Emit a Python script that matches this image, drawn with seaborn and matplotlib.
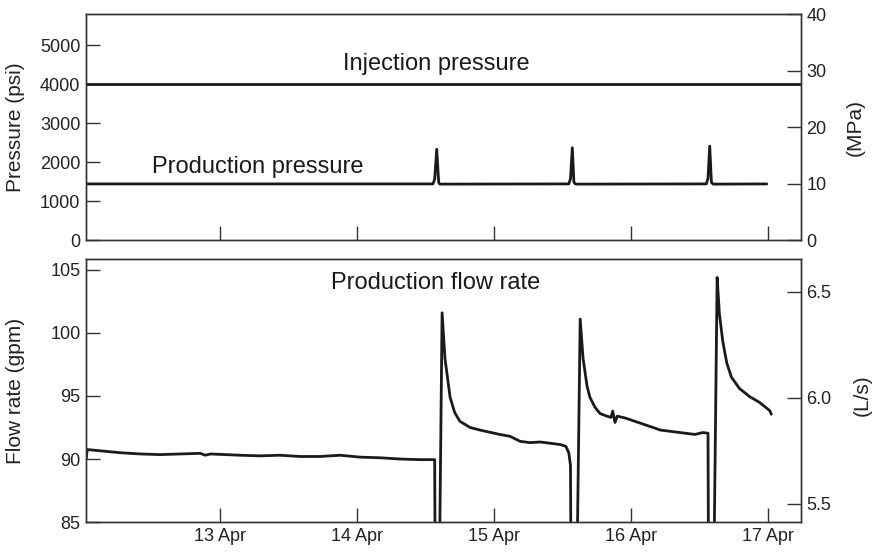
import pandas as pd
import matplotlib
matplotlib.use("Agg")
import matplotlib.pyplot as plt
import matplotlib.dates as mdates
import matplotlib.ticker as mticker
import seaborn as sns

START = pd.Timestamp("2015-04-12 00:00")

# time axis in hours after 12 Apr 00:00
x_range_hours = [0.5, 125.8]
date_ticks = ["2015-04-13", "2015-04-14", "2015-04-15", "2015-04-16", "2015-04-17"]

# production flow rate (gpm)
flow_hours = [
    0.53, 0.7, 3.0, 6.5, 10.0, 13.5, 17.0, 20.5, 21.4, 22.3, 27.5, 31.0, 34.5,
    38.0, 41.5, 45.0, 48.5, 52.0, 55.5, 59.0, 61.6, 61.7, 62.4, 62.9, 63.4,
    64.3, 65.1, 66.0, 67.8, 69.5, 73.0, 74.8, 76.6, 78.3, 80.1, 83.6, 84.6,
    85.1, 85.4, 85.5, 86.5, 87.1, 87.6, 88.3, 88.8, 89.7, 90.6, 91.8, 92.5,
    92.8, 93.2, 93.6, 95.0, 97.6, 100.2, 101.1, 104.6, 107.2, 108.6, 109.5,
    109.6, 110.5, 111.1, 111.5, 112.1, 112.8, 113.6, 115.0, 116.8, 118.5,
    120.3, 120.6,
]
flow_gpm = [
    90.0, 90.75, 90.65, 90.5, 90.4, 90.35, 90.4, 90.45, 90.3, 90.4, 90.3, 90.25,
    90.3, 90.2, 90.2, 90.3, 90.15, 90.1, 90.0, 89.95, 89.95, 80.0, 80.0, 101.6,
    98.0, 94.9, 93.7, 93.0, 92.5, 92.3, 91.95, 91.8, 91.4, 91.3, 91.35, 91.15,
    91.0, 90.5, 89.5, 80.0, 80.0, 101.1, 98.0, 95.8, 94.9, 94.1, 93.6, 93.4,
    93.3, 93.8, 92.9, 93.4, 93.25, 92.85, 92.45, 92.3, 92.1, 91.95, 92.1, 92.05,
    80.0, 80.0, 104.4, 101.5, 99.3, 97.6, 96.5, 95.6, 94.95, 94.5, 93.85, 93.55,
]

# production pressure (psi)
prod_hours = [
    0.53, 61.3, 61.6, 61.96, 62.3, 62.5, 85.1, 85.4, 85.72, 86.0, 86.3,
    109.2, 109.5, 109.8, 110.1, 110.4, 119.8,
]
prod_psi = [
    1440, 1440, 1560, 2330, 1480, 1435, 1440, 1570, 2370, 1480, 1435,
    1440, 1580, 2410, 1480, 1435, 1440,
]

# injection pressure (psi)
inj_hours = [0.5, 125.8]
inj_psi = [4000, 4000]

PSI_PER_MPA = 145.0377


def to_time(hours):
    return START + pd.to_timedelta(hours, unit="h")


sns.set_style("ticks")
plt.rcParams["font.family"] = ["Liberation Sans", "DejaVu Sans"]

ink = "#1a1a1a"
spine = "#333333"
tick_kw = dict(direction="in", length=10, width=1.0, color=spine,
               labelsize=13, labelcolor="#222222", pad=4)

fig = plt.figure(figsize=(8.76, 5.52), dpi=100)
ax1 = fig.add_axes([0.0982, 0.5652, 0.8162, 0.4094])
ax2 = fig.add_axes([0.0982, 0.0543, 0.8162, 0.4765], sharex=ax1)

# top panel: pressures
sns.lineplot(x=to_time(inj_hours), y=inj_psi, ax=ax1, color=ink, lw=2.0,
             estimator=None)
sns.lineplot(x=to_time(prod_hours), y=prod_psi, ax=ax1, color=ink, lw=2.0,
             estimator=None)
ax1.set_ylim(0, 40 * PSI_PER_MPA)
ax1.set_yticks([0, 1000, 2000, 3000, 4000, 5000])
ax1.set_ylabel("Pressure (psi)", fontsize=15, color="#222222")
ax1.yaxis.set_label_coords(-0.086, 0.5)
ax1.tick_params(axis="both", **tick_kw)
ax1.tick_params(axis="x", labelbottom=False)
ax1.text(0.4895, 0.779, "Injection pressure", transform=ax1.transAxes,
         ha="center", va="center", fontsize=17, color=ink)
ax1.text(0.24, 0.324, "Production pressure", transform=ax1.transAxes,
         ha="center", va="center", fontsize=17, color=ink)

ax1r = ax1.twinx()
ax1r.set_ylim(0, 40)
ax1r.set_yticks([0, 10, 20, 30, 40])
ax1r.tick_params(axis="y", **tick_kw)
ax1r.set_ylabel("(MPa)", fontsize=15, color="#222222")
ax1r.yaxis.set_label_coords(1.062, 0.5)

# bottom panel: flow rate
sns.lineplot(x=to_time(flow_hours), y=flow_gpm, ax=ax2, color=ink, lw=2.0,
             estimator=None)
ax2.set_ylim(85, 105.87)
ax2.set_yticks([85, 90, 95, 100, 105])
ax2.set_ylabel("Flow rate (gpm)", fontsize=15, color="#222222")
ax2.yaxis.set_label_coords(-0.086, 0.5)
ax2.tick_params(axis="both", **tick_kw)
ax2.text(0.4895, 0.907, "Production flow rate", transform=ax2.transAxes,
         ha="center", va="center", fontsize=17, color=ink)

ax2r = ax2.twinx()
ax2r.set_ylim(5.415, 6.654)
ax2r.set_yticks([5.5, 6.0, 6.5])
ax2r.yaxis.set_major_formatter(mticker.FormatStrFormatter("%.1f"))
ax2r.tick_params(axis="y", **tick_kw)
ax2r.set_ylabel("(L/s)", fontsize=15, color="#222222")
ax2r.yaxis.set_label_coords(1.072, 0.483)

ax2.set_xlim(to_time(x_range_hours[0]), to_time(x_range_hours[1]))
ax2.set_xticks(pd.to_datetime(date_ticks))
ax2.xaxis.set_major_formatter(mdates.DateFormatter("%d %b"))
ax2.set_xlabel("")
ax1.set_xlabel("")

for a in (ax1, ax1r, ax2, ax2r):
    for s in a.spines.values():
        s.set_visible(True)
        s.set_color(spine)
        s.set_linewidth(1.0)

fig.savefig("out.png", dpi=100)
plt.close(fig)
